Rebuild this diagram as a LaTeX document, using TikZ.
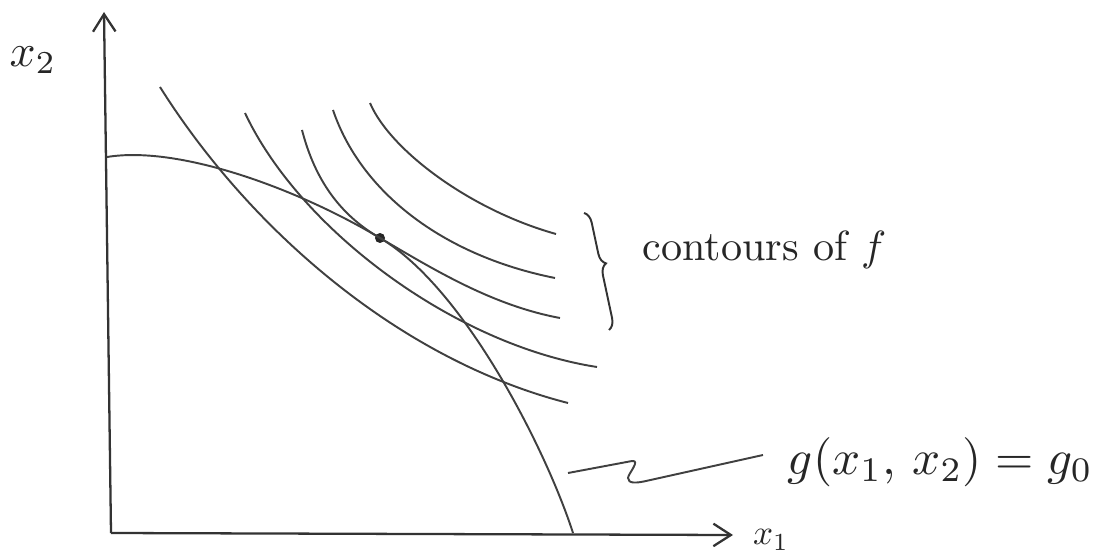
\documentclass[tikz,border=0pt]{standalone}
\usetikzlibrary{arrows.meta,decorations.pathreplacing}

\begin{document}
\begin{tikzpicture}[
  x=0.02cm, y=-0.02cm,
  axis/.style={line width=1.3pt, draw=black!80, -{Straight Barb[length=3.5mm, width=4.5mm, line width=1.3pt]}},
  contour/.style={line width=1.1pt, draw=black!75},
  leader/.style={line width=1.1pt, draw=black!75},
  hand/.style={text=black!85, inner sep=0pt},
  dot/.style={circle, fill=black!85, inner sep=0pt, minimum size=0.2cm},
  bracket/.style={line width=1.1pt, draw=black!80, decorate, decoration={brace, amplitude=0.22cm, aspect=0.45}},
]
\useasboundingbox (0,0) rectangle (1108,557);

% Axes
\coordinate (origin) at (111,533);
\coordinate (ytip) at (104,12);
\coordinate (xtip) at (733,535);
\draw[axis] (origin) -- (ytip);
\draw[axis] (origin) -- (xtip);
\node[hand, scale=2.6] (xtwo) at (33,60) {$x_2$};
\node[hand, scale=2.0] (xone) at (771,540) {$x_1$};

% Tangency point
\node[dot] (tangent) at (380,238) {};

% Contours of f
\draw[contour] (160,87) .. controls (250,230) and (400,360) .. (568,403);
\draw[contour] (245,113) .. controls (300,230) and (455,345) .. (597,367);
\draw[contour] (302,130) .. controls (315,180) and (340,215) .. (tangent.center)
  .. controls (430,267) and (490,305) .. (560,318);
\draw[contour] (333,110) .. controls (360,190) and (440,255) .. (555,278);
\draw[contour] (370,103) .. controls (390,150) and (470,210) .. (556,234);

% Constraint g
\draw[contour] (107,157) .. controls (180,145) and (300,190) .. (tangent.center)
  .. controls (465,288) and (547,452) .. (573,533);

% Brace and labels
\coordinate (bracetop) at (584,213);
\coordinate (bracebot) at (609,330);
\draw[bracket] (bracetop) -- (bracebot);
\node[hand, anchor=base west, scale=2.4] (ctext) at (642,260) {contours of $f$};

\node[hand, anchor=base west, scale=2.8] (glabel) at (787,474) {$g(x_1,\, x_2) = g_0$};
\coordinate (lstart) at (568,473);
\coordinate (lend) at (763,455);
\draw[leader] (lstart) -- (632,461) .. controls (641,460) and (628,474) .. (628,478) .. controls (628,484) and (637,483) .. (646,481) -- (lend);

\end{tikzpicture}
\end{document}
